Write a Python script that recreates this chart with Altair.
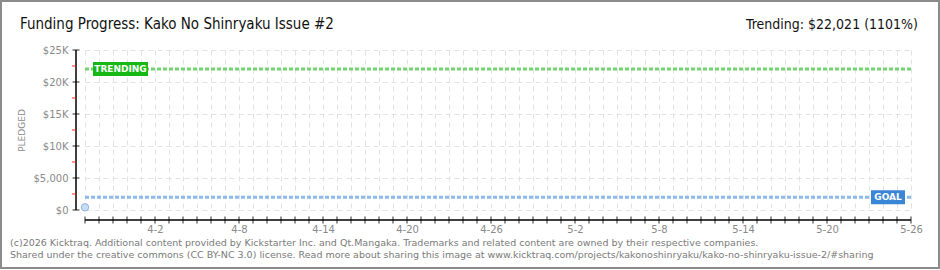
import altair as alt
import pandas as pd

# ---- data ----
start_date = "2026-03-28"
end_date = "2026-05-26"
pledged_dates = ["2026-03-28"]
pledged_values = [420]
goal_value = 2000
trending_value = 22021
trending_pct = 1101
y_tick_values = [0, 5000, 10000, 15000, 20000, 25000]
y_tick_labels = ["$0", "$5,000", "$10K", "$15K", "$20K", "$25K"]
y_minor_values = [2500, 7500, 12500, 17500, 22500]
x_label_dates = ["2026-04-02", "2026-04-08", "2026-04-14", "2026-04-20", "2026-04-26",
                 "2026-05-02", "2026-05-08", "2026-05-14", "2026-05-20", "2026-05-26"]
x_labels = ["4-2", "4-8", "4-14", "4-20", "4-26", "5-2", "5-8", "5-14", "5-20", "5-26"]

title_text = "Funding Progress: Kako No Shinryaku Issue #2"
trend_text = f"Trending:  ${trending_value:,} ({trending_pct}%)"
footer1 = ("(c)2026 Kicktraq. Additional content provided by Kickstarter Inc. and Qt.Mangaka. "
           "Trademarks and related content are owned by their respective companies.")
footer2 = ("Shared under the creative commons (CC BY-NC 3.0) license. Read more about sharing this "
           "image at www.kicktraq.com/projects/kakonoshinryaku/kako-no-shinryaku-issue-2/#sharing")

W, H = 826, 160
FONT = "DejaVu Sans"
GRAY = "#8a8a8a"

days = pd.date_range(start_date, end_date, freq="D", tz="UTC")
day_ms = [int(d.timestamp() * 1000) for d in days]
label_ms = [int(pd.Timestamp(d, tz="UTC").timestamp() * 1000) for d in x_label_dates]
x_label_map = "{" + ",".join(f"'{m}':'{l}'" for m, l in zip(label_ms, x_labels)) + "}"
y_label_map = "{" + ",".join(f"'{v}':'{l}'" for v, l in zip(y_tick_values, y_tick_labels)) + "}"

xscale = alt.Scale(type="utc", domain=[start_date, end_date])
yscale = alt.Scale(domain=[0, 25000], nice=False)

grid_df = pd.DataFrame({"date": [start_date], "v": [0]})

base_grid = alt.Chart(grid_df).mark_point(opacity=0).encode(
    x=alt.X("date:T", scale=xscale, axis=alt.Axis(
        values=day_ms, grid=True, gridDash=[5, 4], gridColor="#e2e2e2", gridWidth=1,
        ticks=False, domain=False, offset=10, labelPadding=4,
        labelExpr=f"{x_label_map}[''+time(datum.value)] || ''",
        labelFont=FONT, labelFontSize=10, labelColor=GRAY, labelFlush=False,
        labelOverlap=False, title=None)),
    y=alt.Y("v:Q", scale=yscale, axis=alt.Axis(
        values=y_tick_values, grid=True, gridDash=[5, 4], gridColor="#e2e2e2", gridWidth=1,
        ticks=False, domain=False, offset=9, labelPadding=8, labelOverlap=False,
        labelExpr=f"{y_label_map}[''+datum.value]",
        labelFont=FONT, labelFontSize=10, labelColor=GRAY,
        title="PLEDGED", titleFont=FONT, titleFontSize=9, titleColor=GRAY,
        titleFontWeight="normal", titlePadding=7)),
)

NX = dict(scale=xscale, axis=None)
NY = dict(scale=yscale, axis=None)

# axis lines and ticks
ydom = alt.Chart(grid_df).mark_rule(color="black", strokeWidth=1.5).encode(
    x=alt.value(-9), y=alt.Y(datum=0, **NY), y2=alt.Y2(datum=25000))
yt_df = pd.DataFrame({"v": y_tick_values})
yticks = alt.Chart(yt_df).mark_tick(color="black", size=7, thickness=1.2, orient="horizontal").encode(
    y=alt.Y("v:Q", **NY), x=alt.value(-9))
ym_df = pd.DataFrame({"v": y_minor_values})
yminor = alt.Chart(ym_df).mark_tick(color="#ff0000", size=4, thickness=1.2, orient="horizontal").encode(
    y=alt.Y("v:Q", **NY), x=alt.value(-11))

xdom = alt.Chart(grid_df).mark_rule(color="black", strokeWidth=1.5).encode(
    y=alt.value(170), x=alt.X(datum=alt.DateTime(year=2026, month=3, date=28, utc=True), **NX),
    x2=alt.X2(datum=alt.DateTime(year=2026, month=5, date=26, utc=True)))
xt_df = pd.DataFrame({"date": days.strftime("%Y-%m-%d")})
xticks = alt.Chart(xt_df).mark_tick(color="black", size=7, thickness=1.2, orient="vertical").encode(
    x=alt.X("date:T", **NX), y=alt.value(170))

# trending & goal lines
line_df = pd.DataFrame({"kind": ["trending", "goal"], "v": [trending_value, goal_value],
                        "date": [start_date, end_date]})
tr_df = line_df[line_df.kind == "trending"]
gl_df = line_df[line_df.kind == "goal"]
trend_line = alt.Chart(tr_df).mark_rule(
    color="#74d274", strokeWidth=3, strokeDash=[4, 2]).encode(y=alt.Y("v:Q", **NY))
goal_line = alt.Chart(gl_df).mark_rule(
    color="#8dbbe9", strokeWidth=3, strokeDash=[4, 2]).encode(y=alt.Y("v:Q", **NY))

trend_box = alt.Chart(tr_df).mark_tick(
    color="#15b815", orient="horizontal", size=55, thickness=14, opacity=1).encode(
    x=alt.X("date:T", **NX), xOffset=alt.value(35.5), y=alt.Y("v:Q", **NY))
trend_lbl = alt.Chart(tr_df).mark_text(
    color="white", font=FONT, fontSize=9, fontWeight="bold", align="center", baseline="middle").encode(
    x=alt.X("date:T", **NX), xOffset=alt.value(35.5), y=alt.Y("v:Q", **NY),
    text=alt.value("TRENDING"))
goal_box = alt.Chart(gl_df).mark_tick(
    color="#3a86d6", orient="horizontal", size=34, thickness=14, opacity=1).encode(
    x=alt.X("date:T", **NX), xOffset=alt.value(-23), y=alt.Y("v:Q", **NY))
goal_lbl = alt.Chart(gl_df).mark_text(
    color="white", font=FONT, fontSize=9, fontWeight="bold", align="center", baseline="middle").encode(
    x=alt.X("date:T", **NX), xOffset=alt.value(-23), y=alt.Y("v:Q", **NY),
    text=alt.value("GOAL"))

# pledged data point
p_df = pd.DataFrame({"date": pledged_dates, "v": pledged_values})
points = alt.Chart(p_df).mark_circle(size=55, color="#c6ddf6", stroke="#8fb4de",
                                      strokeWidth=1, opacity=1).encode(
    x=alt.X("date:T", **NX), y=alt.Y("v:Q", **NY))

# texts
def text_layer(txt, x, y, **kw):
    return alt.Chart(pd.DataFrame({"t": [txt]})).mark_text(**kw).encode(
        x=alt.value(x), y=alt.value(y), text="t:N")

title = text_layer(title_text, -65, -21, font="DejaVu Sans Condensed", fontSize=15,
                   align="left", baseline="alphabetic", color="#111")
trend_title = text_layer(trend_text, 833, -21, font="DejaVu Sans Condensed", fontSize=14,
                         align="right", baseline="alphabetic", color="#111")
foot1 = text_layer(footer1, -75, 193, font=FONT, fontSize=9.5, align="left",
                   baseline="middle", color="#7a7a7a")
foot2 = text_layer(footer2, -75, 205, font=FONT, fontSize=9.5, align="left",
                   baseline="middle", color="#7a7a7a")

border = alt.Chart(grid_df).mark_rect(fill=None, stroke="#8c8c8c", strokeWidth=2).encode(
    x=alt.value(-84), x2=alt.value(854), y=alt.value(-49), y2=alt.value(218))

chart = alt.layer(
    base_grid, trend_line, goal_line, ydom, yticks, yminor, xdom, xticks,
    trend_box, trend_lbl, goal_box, goal_lbl, points, title, trend_title, foot1, foot2, border
).properties(
    width=W, height=H,
    autosize=alt.AutoSizeParams(type="none"),
    padding={"left": 85, "top": 50, "right": 29, "bottom": 60},
    background="white",
).resolve_axis(x="independent", y="independent").configure_view(strokeWidth=0)

chart.save("out.html", embed_options={"renderer": "svg", "actions": False})
